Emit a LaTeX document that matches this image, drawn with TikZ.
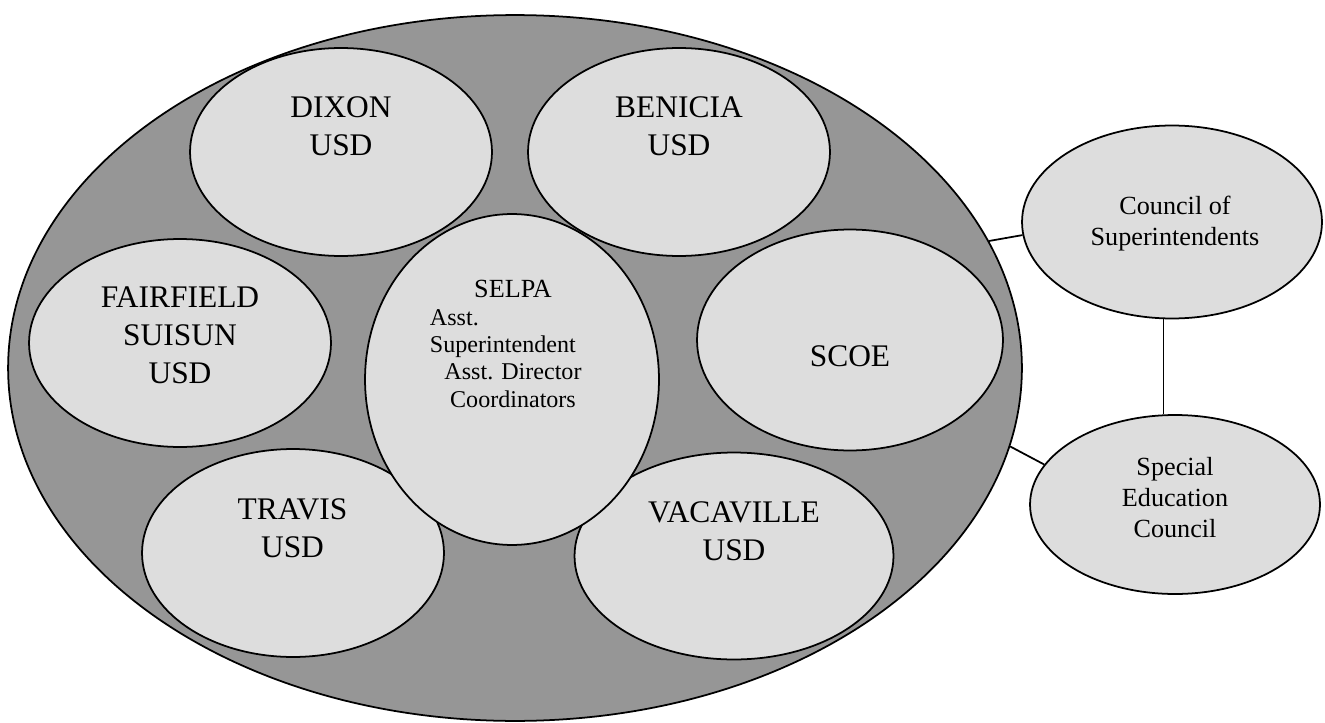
\documentclass[tikz,border=0pt]{standalone}
\usepackage{fontspec}
\setmainfont{Liberation Serif}
\usetikzlibrary{shapes.geometric}
\definecolor{ringgray}{RGB}{150,150,150}
\definecolor{unitgray}{RGB}{221,221,221}

\begin{document}
\begin{tikzpicture}[x=0.02cm,y=-0.02cm,
  unit/.style={ellipse,draw,line width=1pt,fill=unitgray,inner sep=0pt},
  bigtxt/.style={align=center,inner sep=0pt,font=\fontsize{17.9}{21.6}\selectfont},
  smalltxt/.style={align=center,inner sep=0pt,font=\fontsize{14.9}{17.4}\selectfont}]
\useasboundingbox (0,0) rectangle (1325,723);

\node[ellipse,draw,line width=1pt,fill=ringgray,minimum width=20.28cm,minimum height=14.12cm] (county) at (515,368) {};

\node[unit,minimum width=6.04cm,minimum height=4.16cm] (dixon) at (341,152) {};
\node[unit,minimum width=6.04cm,minimum height=4.16cm] (benicia) at (679,152) {};
\node[unit,minimum width=6.04cm,minimum height=4.16cm] (fairfield) at (180,343) {};
\node[unit,minimum width=6.12cm,minimum height=4.42cm] (scoe) at (850,340) {};
\node[unit,minimum width=6.04cm,minimum height=4.16cm] (travis) at (293,553) {};
\node[unit,minimum width=6.38cm,minimum height=4.14cm] (vacaville) at (734,556) {};
\node[unit,minimum width=5.88cm,minimum height=6.62cm] (selpa) at (512,379.5) {};

\node[unit,minimum width=6.0cm,minimum height=3.86cm] (council) at (1172,222) {};
\node[unit,minimum width=5.8cm,minimum height=3.58cm] (special) at (1175,504.5) {};

\path[draw,line width=1pt] (county.15) edge (council.185);
\path[draw,line width=1pt] (county.351) edge (special.163);
\path[draw,line width=1pt] (council.265) edge (council.265 |- special.north);

\node[bigtxt] (dixontxt) at (341,126.5) {DIXON\\USD};
\node[bigtxt] (beniciatxt) at (679,126.5) {BENICIA\\USD};
\node[bigtxt] (fairfieldtxt) at (180,335) {FAIRFIELD\\SUISUN\\USD};
\node[bigtxt] (scoetxt) at (850,356) {SCOE};
\node[bigtxt] (travistxt) at (292.5,528) {TRAVIS\\USD};
\node[bigtxt] (vacavilletxt) at (734,531) {VACAVILLE\\USD};
\node[align=center,inner sep=0pt,font=\fontsize{13.7}{15.6}\selectfont] (selpatxt) at (513,344)
  {{\fontsize{14.9}{15.6}\selectfont SELPA}\\ \makebox[94.5pt][l]{Asst.}\\ \makebox[94.5pt][l]{Superintendent}\\ Asst. Director\\ Coordinators};

\node[smalltxt] (counciltxt) at (1175,223.5) {Council of\\Superintendents};
\node[smalltxt] (specialtxt) at (1175,497.5) {Special\\Education\\Council};

\end{tikzpicture}
\end{document}
